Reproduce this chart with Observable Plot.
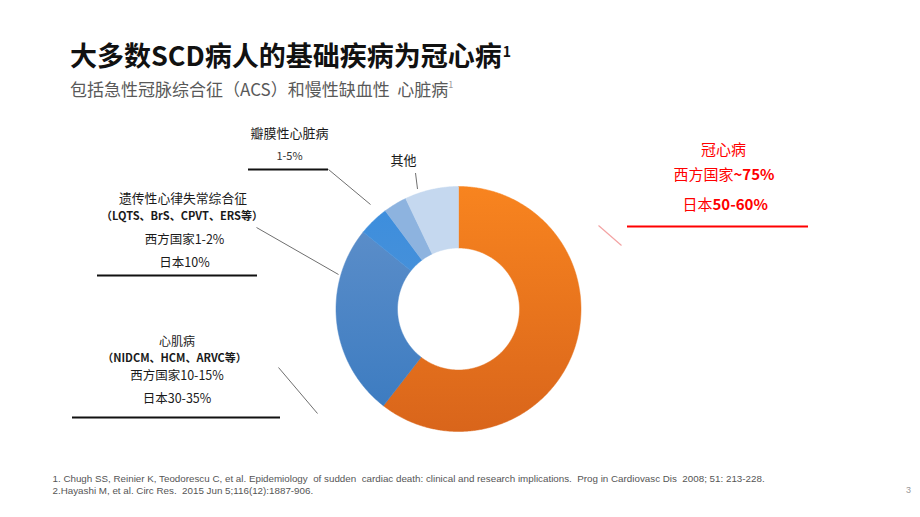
<!DOCTYPE html>
<html><head><meta charset="utf-8">
<script src="https://cdn.jsdelivr.net/npm/d3@7"></script>
<script src="https://cdn.jsdelivr.net/npm/@observablehq/plot@0.6"></script>
<style>
body{margin:0;background:#fff;}
#wrap{position:relative;width:920px;height:517px;overflow:hidden;font-family:"Noto Sans CJK SC",sans-serif;}
#chart{position:absolute;left:0;top:0;}
#title{position:absolute;left:70px;top:41px;font-size:27px;line-height:27px;font-weight:700;color:#111;white-space:nowrap;margin:0;}
#title sup{font-size:14px;line-height:14px;vertical-align:top;position:relative;top:3px;margin-left:1px;}
#subtitle{position:absolute;left:70px;top:80px;font-size:17px;line-height:17px;color:#595959;white-space:nowrap;margin:0;}
#subtitle sup{font-size:9px;line-height:9px;vertical-align:top;color:#999;}
</style></head><body>
<div id="wrap">
<div id="chart"></div>
<h1 id="title">大多数SCD病人的基础疾病为冠心病<sup>1</sup></h1>
<div id="subtitle">包括急性冠脉综合征（ACS）和慢性缺血性&nbsp;&nbsp;心脏病<sup>1</sup></div>
</div>
<script>
// ---- data ----
const categories = ["冠心病", "心肌病", "遗传性心律失常综合征", "瓣膜性心脏病", "其他"];
const shares = [60.5, 25.3, 4.0, 3.1, 7.1];
const sliceColors = ["url(#gOrange)", "url(#gBlue)", "url(#gMid)", "#8DB3DF", "#C5D8EF"];

const footnotes = [
  "1. Chugh SS, Reinier K, Teodorescu C, et al. Epidemiology  of sudden  cardiac death: clinical and research implications.  Prog in Cardiovasc Dis  2008; 51: 213-228.",
  "2.Hayashi M, et al. Circ Res.  2015 Jun 5;116(12):1887-906."
];
const pageNumber = "3";

// ---- layout (positions only) ----
const cx = 458, cy = 308.5, R = 122.5, R0 = 61;

const table = categories.map((name, i) => ({name, value: shares[i]}));
const arcs = d3.pie().sort(null).value(d => d.value)(table);
const ring = [];
for (const a of arcs) {
  const n = Math.max(2, Math.ceil((a.endAngle - a.startAngle) / (Math.PI / 360)));
  const pt = (t, r) => ({k: a.data.name, x: cx + r * Math.sin(t), y: cy - r * Math.cos(t)});
  for (let i = 0; i <= n; i++) ring.push(pt(a.startAngle + (a.endAngle - a.startAngle) * i / n, R));
  for (let i = n; i >= 0; i--) ring.push(pt(a.startAngle + (a.endAngle - a.startAngle) * i / n, R0));
  ring.push(pt(a.startAngle, R));
}

const blackLabels = [
  {t: "瓣膜性心脏病", x: 289, y: 133, s: 13},
  {t: "其他", x: 403, y: 160.5, s: 13},
  {t: "遗传性心律失常综合征", x: 182.5, y: 198.5, s: 12.8},
  {t: "西方国家1-2%", x: 184, y: 239, s: 12.5},
  {t: "日本10%", x: 184, y: 262, s: 12.5},
  {t: "心肌病", x: 176.5, y: 342, s: 12},
  {t: "西方国家10-15%", x: 176.5, y: 375, s: 12.5},
  {t: "日本30-35%", x: 176.5, y: 398, s: 12.5}
];
const smallLabels = [
  {t: "1-5%", x: 289, y: 155.5}
];
const boldSmall = [
  {t: "（LQTS、BrS、CPVT、ERS等）", x: 181.5, y: 216},
  {t: "（NIDCM、HCM、ARVC等）", x: 174, y: 357.5}
];
const redCenter = [
  {t: "冠心病", x: 723, y: 150}
];
const redEnd = [
  {t: "西方国家", x: 733, y: 175},
  {t: "日本", x: 712, y: 205}
];
const redBold = [
  {t: "~75%", x: 733, y: 175},
  {t: "50-60%", x: 712, y: 205}
];
const underlines = [
  {x1: 248, x2: 328, y: 169},
  {x1: 97, x2: 257, y: 275},
  {x1: 72, x2: 280, y: 417}
];
const leaders = [
  {x1: 328, y1: 169, x2: 370, y2: 204},
  {x1: 415, y1: 172.5, x2: 417, y2: 188.5},
  {x1: 256, y1: 227, x2: 338, y2: 274},
  {x1: 278, y1: 367, x2: 317, y2: 413}
];
const noteRows = footnotes.map((t, i) => ({t, x: 52, y: [478, 490][i]}));

const chart = Plot.plot({
  width: 920,
  height: 517,
  margin: 0,
  style: {fontFamily: "'Noto Sans CJK SC', sans-serif", background: "transparent"},
  x: {type: "identity", axis: null},
  y: {type: "identity", axis: null},
  color: {domain: categories, range: sliceColors},
  marks: [
    Plot.line(ring, {x: "x", y: "y", z: "k", fill: "k", stroke: "k", strokeWidth: 0.5}),
    Plot.link(leaders, {x1: "x1", y1: "y1", x2: "x2", y2: "y2", stroke: "#6f6f6f", strokeWidth: 1}),
    Plot.link([{x1: 598, y1: 225, x2: 621, y2: 245}], {x1: "x1", y1: "y1", x2: "x2", y2: "y2", stroke: "#f3a3a3", strokeWidth: 1.2}),
    Plot.ruleY(underlines, {x1: "x1", x2: "x2", y: "y", stroke: "#111", strokeWidth: 2}),
    Plot.ruleY([{x1: 627, x2: 808, y: 226}], {x1: "x1", x2: "x2", y: "y", stroke: "#ff0000", strokeWidth: 2}),
    Plot.text(blackLabels, {x: "x", y: "y", text: "t", fontSize: "s", fill: "#1a1a1a"}),
    Plot.text(smallLabels, {x: "x", y: "y", text: "t", fontSize: 11, fill: "#333"}),
    Plot.text(boldSmall, {x: "x", y: "y", text: "t", fontSize: 11, fontWeight: "bold", fill: "#1a1a1a"}),
    Plot.text(redCenter, {x: "x", y: "y", text: "t", textAnchor: "middle", fontSize: 15, fill: "#ff0000"}),
    Plot.text(redEnd, {x: "x", y: "y", text: "t", textAnchor: "end", fontSize: 15, fill: "#ff0000"}),
    Plot.text(redBold, {x: "x", y: "y", text: "t", textAnchor: "start", fontSize: 15, fontWeight: "bold", fill: "#ff0000"}),
    Plot.text(noteRows, {x: "x", y: "y", text: "t", textAnchor: "start", fontSize: 9.8, fontFamily: "Liberation Sans", fill: "#555"}),
    Plot.text([{t: pageNumber, x: 908, y: 490}], {x: "x", y: "y", text: "t", fontSize: 9, fontFamily: "Liberation Sans", fill: "#999"})
  ]
});

// gradient definitions used by the slice colours
const svg = d3.select(chart);
const defs = svg.insert("defs", ":first-child");
const grad = (id, a, b) => {
  const g = defs.append("linearGradient").attr("id", id).attr("x1", 0).attr("y1", 0).attr("x2", 0).attr("y2", 1);
  g.append("stop").attr("offset", "0%").attr("stop-color", a);
  g.append("stop").attr("offset", "100%").attr("stop-color", b);
};
grad("gOrange", "#F8841F", "#D9651B");
grad("gBlue", "#5A8DC9", "#3D7CC1");
grad("gMid", "#3D8EDD", "#4590DA");

document.getElementById("chart").appendChild(chart);
</script>
</body></html>
